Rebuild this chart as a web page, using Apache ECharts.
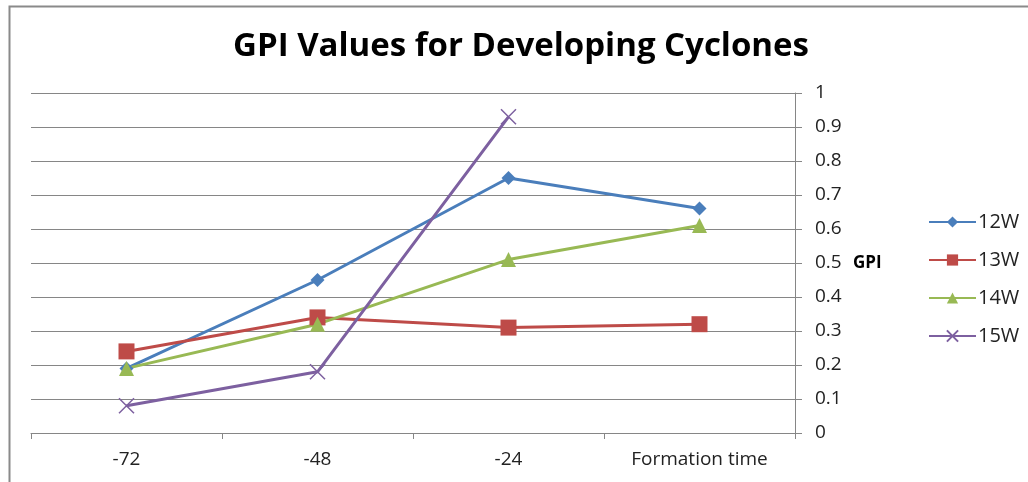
<!DOCTYPE html>
<html>
<head>
<meta charset="utf-8">
<script src="https://cdn.jsdelivr.net/npm/echarts@6/dist/echarts.min.js"></script>
<style>
html,body{margin:0;padding:0;background:#fff;}
#chart{width:1028px;height:482px;}
</style>
</head>
<body>
<div id="chart"></div>
<script>
var categories = ['-72', '-48', '-24', 'Formation time'];
var s12W = [0.19, 0.45, 0.75, 0.66];
var s13W = [0.24, 0.34, 0.31, 0.32];
var s14W = [0.19, 0.32, 0.51, 0.61];
var s15W = [0.08, 0.18, 0.93, null];
var seriesNames = ['12W', '13W', '14W', '15W'];
var yTicks = [0, 0.1, 0.2, 0.3, 0.4, 0.5, 0.6, 0.7, 0.8, 0.9, 1];

var colors = ['#4a7ebb', '#be4b48', '#98b954', '#7d60a0'];
var font = '"Open Sans", Lato, sans-serif';
var chart = echarts.init(document.getElementById('chart'));

function mk(name, data, color, symbol, size, extra) {
  var s = {
    name: name, type: 'line', data: data,
    symbol: symbol, symbolSize: size,
    lineStyle: {color: color, width: 3},
    itemStyle: {color: color},
    connectNulls: false,
    animation: false
  };
  if (extra) Object.assign(s.itemStyle, extra);
  return s;
}

chart.setOption({
  backgroundColor: '#fff',
  animation: false,
  color: colors,
  title: {
    text: 'GPI Values for Developing Cyclones',
    left: 516, top: 25, textAlign: 'center',
    textStyle: {fontFamily: font, fontWeight: 'bold', fontSize: 33, color: '#000'}
  },
  graphic: [
    {type: 'rect', left: 7, top: 4, shape: {width: 1040, height: 500},
     style: {fill: 'none', stroke: '#8a8a8a', lineWidth: 2}, silent: true},
    {type: 'text', left: 853, top: 255,
     style: {text: 'GPI', font: 'bold 17px ' + font, fill: '#000'}}
  ],
  legend: {
    orient: 'vertical', left: 923, top: 207,
    itemWidth: 47, itemHeight: 14, itemGap: 18,
    textStyle: {fontFamily: font, fontSize: 20, color: '#222', padding: [0,0,0,-3]},
    data: seriesNames
  },
  grid: {left: 31, right: 233, top: 93, bottom: 49, containLabel: false},
  xAxis: {
    type: 'category', data: categories, boundaryGap: true,
    axisLine: {lineStyle: {color: '#868686', width: 1}},
    axisTick: {show: true, length: 6, inside: false, lineStyle: {color: '#868686'}},
    axisLabel: {fontFamily: font, fontSize: 19, color: '#222', margin: 17},
    splitLine: {show: false}
  },
  yAxis: {
    type: 'value', position: 'right', min: 0, max: 1, interval: 0.1,
    axisLine: {show: true, lineStyle: {color: '#868686', width: 1}},
    axisTick: {show: true, length: 7, lineStyle: {color: '#868686'}},
    axisLabel: {fontFamily: font, fontSize: 19, color: '#222', margin: 20,
      formatter: function (v) { var r = Math.round(v * 10) / 10; return yTicks.indexOf(r) >= 0 ? String(r) : ''; }},
    splitLine: {show: true, lineStyle: {color: '#868686', width: 1}}
  },
  series: [
    mk('12W', s12W, colors[0], 'diamond', 14),
    mk('13W', s13W, colors[1], 'rect', 16),
    mk('14W', s14W, colors[2], 'triangle', 15),
    mk('15W', s15W, colors[3], 'path://M0,0L10,10M10,0L0,10', 15, {color: 'none', borderColor: colors[3], borderWidth: 1.5})
  ]
});
</script>
</body>
</html>
